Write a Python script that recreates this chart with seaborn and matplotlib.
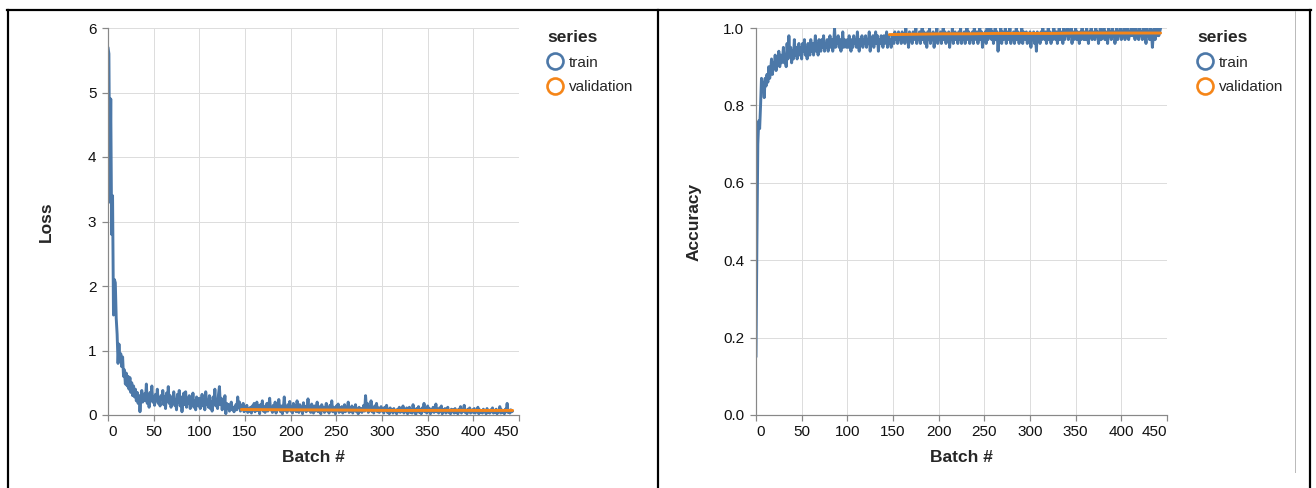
import numpy as np
import pandas as pd
import matplotlib
matplotlib.use("Agg")
import matplotlib.pyplot as plt
from matplotlib.lines import Line2D
import seaborn as sns

# ---------------------------------------------------------------- data
train_loss = [
    5.70, 5.60, 3.30, 4.90, 2.80, 3.40, 1.55, 2.10, 2.05, 1.50, 1.25, 0.80, 1.10, 0.85, 0.95, 0.75, 0.90, 0.60, 0.70, 0.48,
    0.65, 0.45, 0.60, 0.40, 0.58, 0.35, 0.50, 0.30, 0.45, 0.28, 0.40, 0.22, 0.35, 0.18, 0.30, 0.05, 0.25, 0.38, 0.20, 0.30,
    0.33, 0.22, 0.48, 0.18, 0.30, 0.12, 0.35, 0.25, 0.45, 0.20, 0.28, 0.15, 0.32, 0.22, 0.40, 0.18, 0.26, 0.14, 0.30, 0.24,
    0.38, 0.16, 0.28, 0.10, 0.34, 0.22, 0.44, 0.18, 0.30, 0.12, 0.26, 0.20, 0.36, 0.15, 0.24, 0.08, 0.32, 0.20, 0.38, 0.14,
    0.28, 0.05, 0.22, 0.34, 0.16, 0.36, 0.12, 0.26, 0.18, 0.30, 0.10, 0.24, 0.16, 0.34, 0.12, 0.22, 0.08, 0.28, 0.18, 0.14,
    0.26, 0.10, 0.20, 0.32, 0.14, 0.24, 0.08, 0.36, 0.16, 0.22, 0.12, 0.30, 0.10, 0.20, 0.06, 0.28, 0.18, 0.40, 0.14, 0.24,
    0.10, 0.32, 0.44, 0.16, 0.26, 0.08, 0.22, 0.12, 0.30, 0.02, 0.18, 0.10, 0.16, 0.06, 0.14, 0.20, 0.08, 0.12, 0.05, 0.10,
    0.16, 0.08, 0.28, 0.12, 0.20, 0.06, 0.14, 0.10, 0.18, 0.05, 0.12, 0.08, 0.15, 0.04, 0.10, 0.06, 0.12, 0.03, 0.14, 0.08,
    0.18, 0.05, 0.12, 0.20, 0.07, 0.14, 0.02, 0.16, 0.09, 0.22, 0.06, 0.13, 0.04, 0.10, 0.18, 0.06, 0.12, 0.26, 0.08, 0.11,
    0.04, 0.15, 0.07, 0.20, 0.03, 0.12, 0.08, 0.24, 0.10, 0.05, 0.14, 0.02, 0.11, 0.28, 0.07, 0.13, 0.04, 0.16, 0.09, 0.21,
    0.06, 0.12, 0.03, 0.18, 0.08, 0.14, 0.05, 0.22, 0.10, 0.04, 0.16, 0.07, 0.12, 0.02, 0.19, 0.08, 0.13, 0.05, 0.10, 0.25,
    0.07, 0.12, 0.04, 0.17, 0.09, 0.03, 0.14, 0.06, 0.11, 0.20, 0.05, 0.13, 0.08, 0.02, 0.16, 0.07, 0.12, 0.04, 0.10, 0.18,
    0.06, 0.11, 0.03, 0.15, 0.08, 0.22, 0.05, 0.12, 0.07, 0.02, 0.14, 0.09, 0.17, 0.04, 0.11, 0.06, 0.13, 0.03, 0.09, 0.16,
    0.05, 0.12, 0.08, 0.20, 0.04, 0.10, 0.06, 0.14, 0.03, 0.11, 0.07, 0.16, 0.05, 0.09, 0.02, 0.12, 0.06, 0.10, 0.04, 0.08,
    0.15, 0.06, 0.30, 0.09, 0.18, 0.04, 0.12, 0.07, 0.22, 0.05, 0.10, 0.03, 0.14, 0.08, 0.18, 0.05, 0.11, 0.04, 0.09, 0.13,
    0.06, 0.10, 0.03, 0.12, 0.07, 0.15, 0.04, 0.09, 0.02, 0.11, 0.06, 0.08, 0.03, 0.10, 0.05, 0.07, 0.02, 0.09, 0.05, 0.12,
    0.04, 0.08, 0.06, 0.14, 0.03, 0.09, 0.05, 0.11, 0.02, 0.07, 0.12, 0.04, 0.08, 0.03, 0.16, 0.05, 0.09, 0.01, 0.10, 0.06,
    0.13, 0.04, 0.08, 0.02, 0.11, 0.06, 0.18, 0.05, 0.09, 0.03, 0.14, 0.06, 0.10, 0.02, 0.08, 0.05, 0.12, 0.04, 0.07, 0.17,
    0.05, 0.09, 0.03, 0.11, 0.06, 0.14, 0.02, 0.08, 0.05, 0.10, 0.03, 0.07, 0.12, 0.04, 0.06, 0.02, 0.09, 0.05, 0.08, 0.03,
    0.10, 0.04, 0.07, 0.02, 0.09, 0.05, 0.13, 0.03, 0.08, 0.06, 0.15, 0.04, 0.07, 0.02, 0.09, 0.05, 0.11, 0.03, 0.06, 0.08,
    0.04, 0.10, 0.03, 0.07, 0.05, 0.12, 0.02, 0.08, 0.04, 0.06, 0.03, 0.09, 0.05, 0.07, 0.02, 0.10, 0.04, 0.06, 0.03, 0.08,
    0.05, 0.11, 0.03, 0.07, 0.04, 0.09, 0.02, 0.06, 0.05, 0.13, 0.03, 0.08, 0.04, 0.06, 0.02, 0.09, 0.05, 0.18, 0.04, 0.07,
    0.03, 0.08, 0.05, 0.06,
]

train_acc = [
    0.15, 0.45, 0.70, 0.76, 0.74, 0.80, 0.87, 0.84, 0.86, 0.82, 0.87, 0.85, 0.88, 0.86, 0.90, 0.87, 0.89, 0.92, 0.88, 0.91,
    0.90, 0.93, 0.89, 0.92, 0.91, 0.94, 0.90, 0.93, 0.91, 0.92, 0.95, 0.91, 0.93, 0.90, 0.96, 0.92, 0.98, 0.93, 0.95, 0.91,
    0.94, 0.92, 0.97, 0.93, 0.95, 0.92, 0.94, 0.96, 0.93, 0.95, 0.92, 0.96, 0.94, 0.97, 0.93, 0.95, 0.92, 0.96, 0.94, 0.93,
    0.97, 0.94, 0.96, 0.93, 0.95, 0.98, 0.94, 0.96, 0.93, 0.97, 0.95, 0.94, 0.97, 0.95, 0.98, 0.94, 0.96, 0.95, 0.97, 0.94,
    0.96, 0.98, 0.95, 0.97, 0.94, 0.96, 1.00, 0.95, 0.97, 0.96, 0.98, 0.95, 0.97, 0.94, 0.96, 0.99, 0.95, 0.97, 0.96, 0.95,
    0.97, 0.95, 0.98, 0.96, 0.94, 0.97, 0.95, 0.98, 0.96, 0.97, 0.95, 0.99, 0.96, 0.94, 0.97, 0.96, 0.98, 0.95, 0.97, 0.96,
    0.98, 0.95, 0.97, 0.96, 0.99, 0.94, 0.97, 0.96, 0.98, 0.95, 0.97, 0.99, 0.96, 0.98, 0.94, 0.97, 0.96, 0.98, 0.97, 0.95,
    0.98, 0.96, 0.97, 0.99, 0.95, 0.98, 0.96, 0.97, 0.95, 0.98, 0.97, 0.96, 0.99, 0.97, 0.98, 0.96, 0.99, 0.97, 0.98, 0.96,
    0.99, 0.97, 0.98, 0.96, 1.00, 0.97, 0.98, 0.95, 0.99, 0.97, 0.98, 0.96, 0.99, 0.98, 0.97, 1.00, 0.96, 0.98, 0.97, 0.99,
    0.96, 0.98, 1.01, 0.97, 0.99, 0.96, 0.98, 0.95, 0.99, 0.97, 1.00, 0.96, 0.98, 0.97, 0.99, 0.95, 0.98, 0.97, 1.00, 0.96,
    0.98, 0.97, 0.99, 0.96, 0.98, 1.00, 0.97, 0.99, 0.96, 0.98, 0.97, 0.99, 0.95, 0.98, 0.97, 1.00, 0.96, 0.98, 0.99, 0.97,
    0.98, 0.96, 0.99, 0.97, 1.00, 0.96, 0.98, 0.97, 0.99, 0.96, 0.98, 1.01, 0.97, 0.99, 0.96, 0.98, 0.97, 0.99, 0.96, 1.00,
    0.98, 0.97, 0.99, 0.96, 0.98, 1.00, 0.97, 0.99, 0.95, 0.98, 0.97, 0.99, 0.96, 1.02, 0.97, 0.99, 0.98, 1.01, 0.97, 0.99,
    0.96, 0.98, 1.01, 0.97, 0.99, 0.94, 0.98, 0.97, 1.00, 0.96, 0.99, 0.97, 0.98, 1.00, 0.96, 0.98, 0.99, 0.97, 1.00, 0.96,
    0.98, 0.97, 0.99, 0.96, 0.98, 1.00, 0.97, 0.99, 0.96, 0.98, 0.97, 1.00, 0.96, 0.99, 0.98, 0.97, 0.99, 0.96, 0.98, 0.97,
    0.99, 0.95, 0.98, 0.97, 0.99, 0.96, 0.98, 0.94, 0.99, 0.97, 0.98, 0.96, 0.99, 0.97, 1.00, 0.98, 0.97, 0.99, 0.96, 0.98,
    1.00, 0.97, 0.99, 0.96, 0.98, 0.97, 1.01, 0.98, 0.97, 0.99, 0.96, 0.98, 1.00, 0.97, 0.99, 0.98, 0.96, 1.00, 0.97, 0.99,
    0.98, 1.01, 0.97, 0.99, 0.98, 1.00, 0.96, 0.99, 0.97, 0.98, 1.00, 0.97, 0.99, 0.98, 0.96, 0.99, 0.97, 1.00, 0.98, 0.97,
    0.99, 0.97, 1.00, 0.98, 0.96, 0.99, 0.98, 1.00, 0.97, 0.99, 0.98, 0.97, 1.00, 0.98, 0.99, 0.96, 0.98, 1.00, 0.97, 0.99,
    0.98, 1.00, 0.97, 0.99, 0.98, 0.96, 1.00, 0.98, 0.99, 0.97, 1.00, 0.98, 0.99, 0.96, 0.98, 1.01, 0.97, 0.99, 0.98, 1.00,
    0.97, 0.99, 0.98, 1.00, 0.97, 0.99, 0.98, 1.01, 0.97, 0.99, 0.98, 1.00, 0.98, 1.02, 0.99, 0.97, 1.00, 0.98, 0.99, 0.97,
    1.00, 0.98, 0.99, 0.97, 1.00, 0.98, 0.99, 0.96, 1.00, 0.98, 0.99, 0.97, 1.00, 0.99, 0.95, 0.98, 1.00, 0.97, 0.99, 0.98,
    1.00, 0.98, 0.99, 1.00,
]

val_batches = [146, 176, 205, 235, 264, 294, 323, 353, 383, 413, 443]
val_loss = [0.085, 0.082, 0.080, 0.078, 0.076, 0.072, 0.070, 0.071, 0.072, 0.070, 0.071]
val_acc = [0.983, 0.984, 0.985, 0.985, 0.986, 0.986, 0.986, 0.987, 0.987, 0.987, 0.987]

series_names = ["train", "validation"]
series_colors = ["#4c78a8", "#f58518"]
x_ticks = [0, 50, 100, 150, 200, 250, 300, 350, 400, 450]
loss_ticks = [0, 1, 2, 3, 4, 5, 6]
acc_ticks = [0.0, 0.2, 0.4, 0.6, 0.8, 1.0]

# ---------------------------------------------------------------- tables
train_batches = list(range(len(train_loss)))
df = pd.concat([
    pd.DataFrame({"batch": train_batches, "loss": train_loss, "acc": train_acc,
                  "series": series_names[0]}),
    pd.DataFrame({"batch": val_batches, "loss": val_loss, "acc": val_acc,
                  "series": series_names[1]}),
], ignore_index=True)
palette = dict(zip(series_names, series_colors))

# ---------------------------------------------------------------- style
sns.set_theme(style="white")
plt.rcParams["font.family"] = ["Liberation Sans", "DejaVu Sans"]
plt.rcParams["axes.unicode_minus"] = False

W, H = 1316, 488
fig = plt.figure(figsize=(W / 100, H / 100), dpi=100)
fig.patch.set_facecolor("white")

PX = 72 / 100  # points per pixel


def box(x0, y_top, w, h):
    return [x0 / W, 1 - (y_top + h) / H, w / W, h / H]


def panel(ax, ycol, ylabel, yticks, ylim, yfmt, legend_x):
    sns.lineplot(data=df, x="batch", y=ycol, hue="series", palette=palette,
                 hue_order=series_names, estimator=None, sort=False,
                 linewidth=2.1, legend=False, ax=ax)
    ax.set_xlim(0, 450)
    ax.set_ylim(*ylim)
    ax.set_xticks(x_ticks)
    ax.set_yticks(yticks)
    ax.set_yticklabels([yfmt.format(v) for v in yticks])
    ax.grid(True, color="#dddddd", linewidth=1 * PX)
    ax.set_axisbelow(True)
    for s in ("top", "right"):
        ax.spines[s].set_visible(False)
    for s in ("left", "bottom"):
        ax.spines[s].set_color("#888888")
        ax.spines[s].set_linewidth(1.2 * PX)
    ax.tick_params(axis="both", which="major", direction="out",
                   length=6 * PX, width=1.2 * PX, color="#888888",
                   labelsize=11, labelcolor="#111111",
                   bottom=True, left=True)
    ax.tick_params(axis="x", pad=3)
    ax.tick_params(axis="y", pad=4)
    labels = ax.get_xticklabels()
    labels[0].set_horizontalalignment("left")
    labels[-1].set_horizontalalignment("right")
    ax.set_xlabel("Batch #", fontsize=12.5, fontweight="bold", va="center")
    ax.xaxis.set_label_coords(0.5, -0.110)
    ax.set_ylabel(ylabel, fontsize=12.5, fontweight="bold", va="center")
    ax.yaxis.set_label_coords(-0.151, 0.5)

    handles = [Line2D([], [], ls="none", marker="o", markersize=11.5,
                      markerfacecolor="none", markeredgecolor=c,
                      markeredgewidth=1.9) for c in series_colors]
    fig.legend(handles, series_names, title="series", loc="upper left",
               bbox_to_anchor=(legend_x / W, 1 - 30 / H), frameon=False,
               fontsize=11, title_fontproperties={"weight": "bold", "size": 12.5},
               alignment="left", borderpad=0, borderaxespad=0,
               handlelength=1.0, handletextpad=0.45, labelspacing=0.7)


ax_loss = fig.add_axes(box(108, 28, 411, 387))
panel(ax_loss, "loss", "Loss", loss_ticks, (0, 6), "{:d}", 547)

ax_acc = fig.add_axes(box(756, 28, 411, 387))
panel(ax_acc, "acc", "Accuracy", acc_ticks, (0, 1.0), "{:.1f}", 1197)

# ---------------------------------------------------------------- frame
def fline(x0, y0, x1, y1, color="black", lw=2.2):
    fig.add_artist(Line2D([x0 / W, x1 / W], [1 - y0 / H, 1 - y1 / H],
                          color=color, linewidth=lw * PX,
                          transform=fig.transFigure, solid_capstyle="projecting"))


fline(7, 10, 1311, 10)
fline(8, 10, 8, 488)
fline(658, 10, 658, 488)
fline(1310, 10, 1310, 488)
fline(1295, 11, 1295, 472, color="#bbbbbb", lw=1)

fig.savefig("out.png", dpi=100, facecolor="white")
